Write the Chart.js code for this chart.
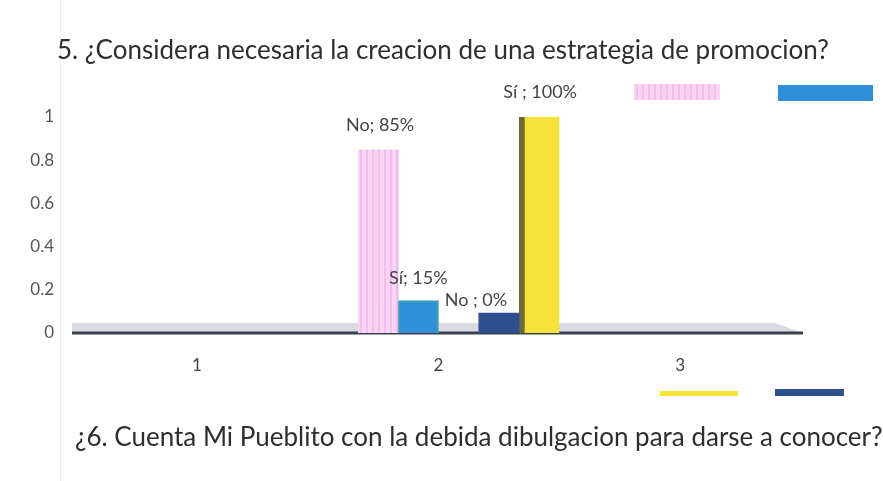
<!DOCTYPE html>
<html>
<head>
<meta charset="utf-8">
<script src="https://cdn.jsdelivr.net/npm/chart.js@4.4.1/dist/chart.umd.min.js"></script>
<style>
  html, body { margin: 0; padding: 0; background: #fff; }
  #wrap { position: relative; width: 883px; height: 481px; overflow: hidden; }
  #chart { position: absolute; left: 0; top: 0; }
  .txt { position: absolute; font-family: Lato, "Open Sans", sans-serif; color: #2e2e2e; white-space: nowrap; }
  #title { left: 57px; top: 33px; font-size: 26px; }
  #next { left: 75px; top: 420px; font-size: 26px; }
  #edge { position: absolute; left: 60px; top: 0; width: 1px; height: 481px; background: #ececf2; }
</style>
</head>
<body>
<div id="wrap">
  <div id="edge"></div>
  <canvas id="chart" width="883" height="481"></canvas>
  <div class="txt" id="title">5. ¿Considera necesaria la creacion de una estrategia de promocion?</div>
  <div class="txt" id="next">¿6. Cuenta Mi Pueblito con la debida dibulgacion para darse a conocer?</div>
</div>
<script>
// categories and series
const categories = ['1', '2', '3'];
const noA = [null, 0.85, null];
const siA = [null, 0.15, null];
const noB = [null, 0, null];
const siB = [null, 1, null];
const empty = [null, null, null];
const pointLabels = ['No; 85%', 'Sí; 15%', 'No ; 0%', 'Sí ; 100%'];
const yTicks = [0, 0.2, 0.4, 0.6, 0.8, 1];

// pink striped fill like the scanned bar
function stripes() {
  const c = document.createElement('canvas');
  c.width = 6; c.height = 10;
  const g = c.getContext('2d');
  g.fillStyle = '#f9d4f5';
  g.fillRect(0, 0, 6, 10);
  g.fillStyle = '#f1bfed';
  g.fillRect(0, 0, 2, 10);
  return g.createPattern(c, 'repeat');
}

const ctx = document.getElementById('chart').getContext('2d');
const pink = stripes();

const floorPlugin = {
  id: 'floor',
  beforeDatasetsDraw(chart) {
    const { ctx, chartArea } = chart;
    const zero = chart.scales.y.getPixelForValue(0);
    const l = chartArea.left - 4, r = chartArea.right + 2;
    ctx.save();
    ctx.fillStyle = '#d9dae4';
    ctx.beginPath();
    ctx.moveTo(l, zero - 10);
    ctx.lineTo(r - 28, zero - 10);
    ctx.lineTo(r, zero);
    ctx.lineTo(l, zero);
    ctx.closePath();
    ctx.fill();
    ctx.strokeStyle = '#3c414e';
    ctx.lineWidth = 3;
    ctx.beginPath();
    ctx.moveTo(l, zero);
    ctx.lineTo(r, zero);
    ctx.stroke();
    ctx.restore();
  }
};

const labelPlugin = {
  id: 'barLabels',
  afterDatasetsDraw(chart) {
    const { ctx } = chart;
    ctx.save();
    ctx.font = '18px Lato, "Open Sans", sans-serif';
    ctx.fillStyle = '#444';
    ctx.textAlign = 'center';
    ctx.textBaseline = 'middle';
    chart.data.datasets.forEach((ds, i) => {
      if (ds.labelIndex === undefined) return;
      const el = chart.getDatasetMeta(i).data[1];
      ctx.fillText(pointLabels[ds.labelIndex], el.x + ds.labelOffset[0], el.y + ds.labelOffset[1]);
    });
    ctx.restore();
  }
};

const legendPlugin = {
  id: 'boxes',
  afterDraw(chart) {
    const { ctx } = chart;
    ctx.save();
    chart.data.datasets.forEach(ds => {
      if (!ds.legendBox) return;
      const [x, y, w, h] = ds.legendBox;
      ctx.fillStyle = ds.backgroundColor;
      ctx.fillRect(x, y, w, h);
    });
    ctx.restore();
  }
};

const myChart = new Chart(ctx, {
  type: 'bar',
  data: {
    labels: categories,
    datasets: [
      { label: '', data: empty },
      { label: 'No', data: noA, backgroundColor: pink, borderColor: '#d9a9e6',
        borderWidth: { right: 1 }, labelIndex: 0, labelOffset: [2, -24], legendBox: [634, 84, 86, 16] },
      { label: 'Sí', data: siA, backgroundColor: '#2f8fd9', borderColor: '#3a9fb3',
        borderWidth: 2, borderSkipped: 'bottom', labelIndex: 1, labelOffset: [0, -22], legendBox: [778, 85, 95, 16] },
      { label: '', data: empty },
      { label: 'No', data: noB, backgroundColor: '#2d4f8e', minBarLength: 20,
        labelIndex: 2, labelOffset: [-23, -13], legendBox: [775, 389, 69, 7] },
      { label: 'Sí', data: siB, backgroundColor: '#f6e33a', borderColor: '#6c6a36',
        borderWidth: { left: 6 }, labelIndex: 3, labelOffset: [1, -25], legendBox: [660, 391, 78, 5] }
    ]
  },
  options: {
    responsive: false,
    animation: false,
    events: [],
    layout: { padding: { top: 117, right: 82, bottom: 103, left: 0 } },
    datasets: { bar: { categoryPercentage: 1, barPercentage: 1, clip: 0 } },
    plugins: { legend: { display: false }, tooltip: { enabled: false } },
    scales: {
      x: {
        grid: { display: false, drawTicks: false },
        border: { display: false },
        ticks: { color: '#444', font: { family: 'Lato', size: 17 }, padding: 22 },
        afterFit: s => { s.height = 45; }
      },
      y: {
        min: 0,
        max: 1,
        afterBuildTicks: s => { s.ticks = yTicks.map(v => ({ value: v })); },
        grid: { display: false, drawTicks: false },
        border: { display: false },
        ticks: { color: '#555', font: { family: 'Lato', size: 17 }, padding: 22, callback: v => String(v) },
        afterFit: s => { s.width = 76; }
      }
    }
  },
  plugins: [floorPlugin, labelPlugin, legendPlugin]
});
</script>
</body>
</html>
